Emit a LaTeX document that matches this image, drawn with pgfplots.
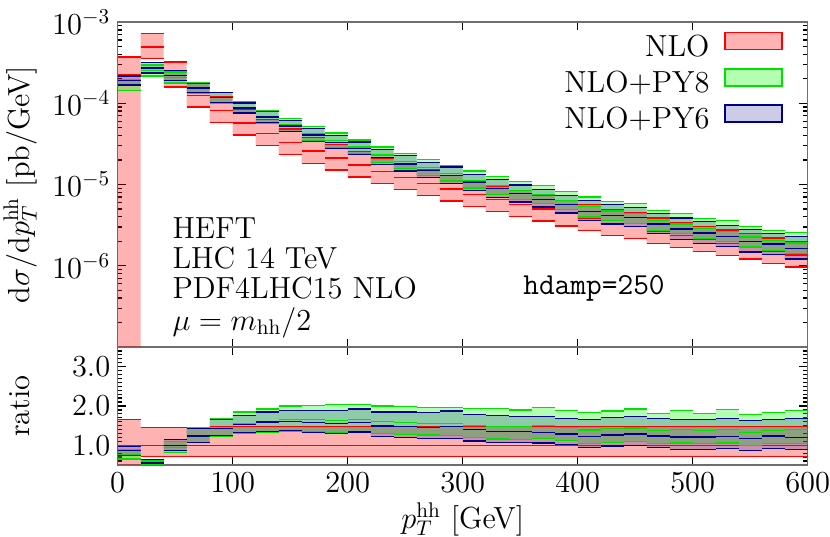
\documentclass[border=0pt]{standalone}
\usepackage{pgfplots}
\pgfplotsset{compat=1.18}
\usepackage{pgfplotstable}
\usepgfplotslibrary{fillbetween}
\definecolor{nloc}{RGB}{255,0,0}
\definecolor{py8c}{RGB}{0,255,0}
\definecolor{py8l}{RGB}{0,225,0}
\definecolor{py6c}{RGB}{0,0,139}
\definecolor{framec}{RGB}{110,110,110}

% x = left bin edge, c = NLO central [pb/GeV]; other columns: ratio to NLO central
\pgfplotstableread{
x   c        nlo    nhi  p8lo p8c  p8hi p6lo p6c  p6hi
0   2.23e-4  0.0001 1.66 0.65 0.76 0.88 0.75 0.86 0.97
20  4.92e-4  0.72   1.46 0.44 0.51 0.60 0.48 0.55 0.64
40  2.20e-4  0.72   1.46 0.81 0.95 1.10 0.86 1.00 1.14
60  1.245e-4 0.72   1.46 1.07 1.25 1.45 1.08 1.24 1.42
80  8.15e-5  0.71   1.47 1.22 1.43 1.68 1.25 1.43 1.66
100 5.72e-5  0.71   1.47 1.30 1.55 1.85 1.33 1.53 1.76
120 4.26e-5  0.71   1.47 1.32 1.60 1.92 1.36 1.59 1.85
140 3.27e-5  0.71   1.47 1.36 1.65 2.00 1.38 1.60 1.89
160 2.58e-5  0.71   1.47 1.34 1.65 2.02 1.32 1.58 1.89
180 2.12e-5  0.71   1.47 1.33 1.64 2.03 1.30 1.55 1.89
200 1.74e-5  0.71   1.47 1.36 1.66 2.03 1.34 1.58 1.92
220 1.445e-5 0.71   1.47 1.30 1.60 2.00 1.22 1.49 1.85
240 1.22e-5  0.71   1.47 1.28 1.58 1.98 1.20 1.47 1.85
260 1.028e-5 0.71   1.47 1.26 1.56 1.97 1.18 1.45 1.83
280 8.81e-6  0.71   1.47 1.25 1.55 1.96 1.17 1.47 1.87
300 7.53e-6  0.71   1.47 1.20 1.50 1.94 1.11 1.41 1.78
320 6.53e-6  0.71   1.47 1.16 1.48 1.93 1.07 1.36 1.75
340 5.69e-6  0.71   1.47 1.15 1.47 1.90 1.07 1.35 1.73
360 4.99e-6  0.71   1.47 1.18 1.50 1.96 1.06 1.32 1.73
380 4.36e-6  0.71   1.47 1.12 1.45 1.89 1.02 1.29 1.68
400 3.83e-6  0.71   1.47 1.04 1.39 1.83 0.94 1.22 1.66
420 3.32e-6  0.71   1.47 1.08 1.42 1.87 0.98 1.26 1.71
440 3.03e-6  0.71   1.47 1.10 1.44 1.92 1.00 1.29 1.73
460 2.63e-6  0.71   1.47 1.04 1.38 1.81 0.94 1.24 1.68
480 2.34e-6  0.71   1.47 1.06 1.40 1.89 0.90 1.21 1.66
500 2.09e-6  0.71   1.47 1.04 1.37 1.81 0.90 1.21 1.66
520 1.87e-6  0.71   1.47 1.06 1.40 1.91 0.92 1.22 1.68
540 1.70e-6  0.71   1.47 1.00 1.33 1.78 0.87 1.17 1.64
560 1.49e-6  0.71   1.47 1.04 1.38 1.83 0.92 1.24 1.66
580 1.36e-6  0.71   1.47 1.05 1.40 1.88 0.89 1.19 1.69
600 1.36e-6  0.71   1.47 1.05 1.40 1.88 0.89 1.19 1.69
}\data

\begin{document}
\begin{tikzpicture}[font=\Large]
\pgfplotsset{
  common/.style={
    scale only axis, width=325.75pt,
    xmin=0, xmax=600, xtick={0,100,...,600},
    axis line style={framec, line width=0.7pt},
    tick style={black, line width=0.6pt},
    major tick length=4pt, minor tick length=2pt,
    tick align=inside,
    ylabel style={at={(axis description cs:-0.1416,0.5)}, anchor=center},
  },
  fl/.style={draw=none, const plot, forget plot},
  ln/.style={jump mark left, line width=0.6pt, forget plot},
}
\begin{axis}[common, name=top, at={(0,0)}, anchor=south west, height=153.43pt,
  ymode=log, ymin=1e-7, ymax=1e-3,
  ytick={1e-7,1e-6,1e-5,1e-4,1e-3},
  yticklabels={{},$10^{-6}$,$10^{-5}$,$10^{-4}$,$10^{-3}$},
  minor ytick={2e-7,3e-7,4e-7,5e-7,6e-7,7e-7,8e-7,9e-7,
               2e-6,3e-6,4e-6,5e-6,6e-6,7e-6,8e-6,9e-6,
               2e-5,3e-5,4e-5,5e-5,6e-5,7e-5,8e-5,9e-5,
               2e-4,3e-4,4e-4,5e-4,6e-4,7e-4,8e-4,9e-4},
  xticklabels={},
  ylabel={$\mathrm{d}\sigma/\mathrm{d}p_T^{\mathrm{hh}}$ [pb/GeV]},
  legend style={at={(axis description cs:0.9642,0.970)}, anchor=north east,
    draw=none, fill=none, inner sep=0pt, row sep=2pt, column sep=7pt,
    nodes={inner sep=0pt, text height=11pt, text depth=3.5pt}},
  legend cell align=right, legend plot pos=right,
]
\addlegendimage{legend image code/.code={\draw[draw=nloc, fill=nloc, fill opacity=0.3, line width=0.6pt] (0pt,-0.5pt) rectangle (26.9pt,7.5pt);}}
\addlegendentry{NLO}
\addlegendimage{legend image code/.code={\draw[draw=py8l, fill=py8c, fill opacity=0.3, line width=0.6pt] (0pt,-0.5pt) rectangle (26.9pt,7.5pt);}}
\addlegendentry{NLO+PY8}
\addlegendimage{legend image code/.code={\draw[draw=py6c, fill=py6c, fill opacity=0.2, line width=0.6pt] (0pt,-0.5pt) rectangle (26.9pt,7.5pt);}}
\addlegendentry{NLO+PY6}

\addplot[fl, name path=a1] table[x=x, y expr=\thisrow{c}*\thisrow{nlo}] {\data};
\addplot[fl, name path=a2] table[x=x, y expr=\thisrow{c}*\thisrow{nhi}] {\data};
\addplot[fl, name path=a3] table[x=x, y expr=\thisrow{c}*\thisrow{p8lo}] {\data};
\addplot[fl, name path=a4] table[x=x, y expr=\thisrow{c}*\thisrow{p8hi}] {\data};
\addplot[fl, name path=a5] table[x=x, y expr=\thisrow{c}*\thisrow{p6lo}] {\data};
\addplot[fl, name path=a6] table[x=x, y expr=\thisrow{c}*\thisrow{p6hi}] {\data};
\addplot[fill=nloc, fill opacity=0.3, draw=none, forget plot] fill between[of=a1 and a2];
\addplot[fill=py8c, fill opacity=0.3, draw=none, forget plot] fill between[of=a3 and a4];
\addplot[fill=py6c, fill opacity=0.2, draw=none, forget plot] fill between[of=a5 and a6];

\addplot[ln, nloc] table[x=x, y expr=\thisrow{c}*\thisrow{nlo}] {\data};
\addplot[ln, nloc] table[x=x, y=c] {\data};
\addplot[ln, nloc] table[x=x, y expr=\thisrow{c}*\thisrow{nhi}] {\data};
\addplot[ln, py8l] table[x=x, y expr=\thisrow{c}*\thisrow{p8lo}] {\data};
\addplot[ln, py8l] table[x=x, y expr=\thisrow{c}*\thisrow{p8c}] {\data};
\addplot[ln, py8l] table[x=x, y expr=\thisrow{c}*\thisrow{p8hi}] {\data};
\addplot[ln, py6c] table[x=x, y expr=\thisrow{c}*\thisrow{p6lo}] {\data};
\addplot[ln, py6c] table[x=x, y expr=\thisrow{c}*\thisrow{p6c}] {\data};
\addplot[ln, py6c] table[x=x, y expr=\thisrow{c}*\thisrow{p6hi}] {\data};

\node[anchor=base west] at (rel axis cs:0.0686,0.335) {HEFT};
\node[anchor=base west] at (rel axis cs:0.0686,0.242) {LHC 14 TeV};
\node[anchor=base west] at (rel axis cs:0.0686,0.148) {PDF4LHC15 NLO};
\node[anchor=base west] at (rel axis cs:0.0686,0.052) {$\mu = m_{\mathrm{hh}}/2$};
\node[anchor=base west] at (rel axis cs:0.577,0.160) {\texttt{hdamp=250}};
\end{axis}

\begin{axis}[common, at={(top.south west)}, anchor=north west, height=55.71pt,
  ymin=0.5, ymax=3.5, ytick={1,2,3}, yticklabels={$1.0$,$2.0$,$3.0$},
  minor ytick={0.5,0.6,...,3.5},
  xlabel={$p_T^{\mathrm{hh}}$ [GeV]},
  xlabel style={at={(axis description cs:0.5,0)}, anchor=base, yshift=-29.9pt},
  ylabel={ratio},
]
\addplot[fl, name path=b1] table[x=x, y=nlo] {\data};
\addplot[fl, name path=b2] table[x=x, y=nhi] {\data};
\addplot[fl, name path=b3] table[x=x, y=p8lo] {\data};
\addplot[fl, name path=b4] table[x=x, y=p8hi] {\data};
\addplot[fl, name path=b5] table[x=x, y=p6lo] {\data};
\addplot[fl, name path=b6] table[x=x, y=p6hi] {\data};
\addplot[fill=nloc, fill opacity=0.3, draw=none, forget plot] fill between[of=b1 and b2];
\addplot[fill=py8c, fill opacity=0.3, draw=none, forget plot] fill between[of=b3 and b4];
\addplot[fill=py6c, fill opacity=0.2, draw=none, forget plot] fill between[of=b5 and b6];

\addplot[ln, nloc] table[x=x, y=nlo] {\data};
\addplot[ln, nloc] table[x=x, y expr=1] {\data};
\addplot[ln, nloc] table[x=x, y=nhi] {\data};
\addplot[ln, py8l] table[x=x, y=p8lo] {\data};
\addplot[ln, py8l] table[x=x, y=p8c] {\data};
\addplot[ln, py8l] table[x=x, y=p8hi] {\data};
\addplot[ln, py6c] table[x=x, y=p6lo] {\data};
\addplot[ln, py6c] table[x=x, y=p6c] {\data};
\addplot[ln, py6c] table[x=x, y=p6hi] {\data};
\end{axis}
\pgfresetboundingbox
\path[use as bounding box] (-55.57pt,-89.70pt) rectangle (336.28pt,163.82pt);
\end{tikzpicture}
\end{document}
